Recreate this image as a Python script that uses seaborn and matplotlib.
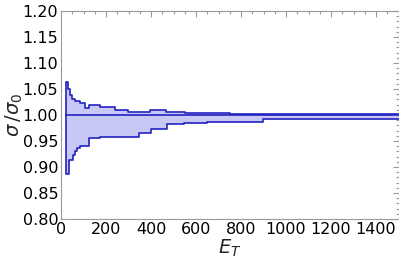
import matplotlib
matplotlib.use("Agg")
import matplotlib.pyplot as plt
from matplotlib.ticker import MultipleLocator, FormatStrFormatter
import numpy as np
import pandas as pd
import seaborn as sns

# step edges (E_T) and band values
upper_edges = [22, 31, 40, 49, 62, 84, 107, 124, 173, 240, 297, 395, 466, 550, 661, 750, 1500]
upper_vals = [1.064, 1.050, 1.038, 1.031, 1.027, 1.023, 1.013, 1.019, 1.015, 1.010,
              1.006, 1.010, 1.005, 1.003, 1.004, 1.0015, 1.0015]

lower_edges = [22, 35, 53, 62, 71, 84, 124, 173, 346, 400, 470, 546, 648, 897, 1500]
lower_vals = [0.887, 0.913, 0.923, 0.931, 0.937, 0.940, 0.956, 0.958, 0.966, 0.9725,
              0.982, 0.985, 0.9865, 0.9917, 0.9917]

x_ticks = [0, 200, 400, 600, 800, 1000, 1200, 1400]
y_ticks = [0.80, 0.85, 0.90, 0.95, 1.00, 1.05, 1.10, 1.15, 1.20]

line_col = "#2222c0"
fill_col = "#c8c8f6"
frame_col = "#9a9a9a"

sns.set_style("white")
plt.rcParams['font.family'] = ['DejaVu Sans']
plt.rcParams['mathtext.fontset'] = 'custom'
plt.rcParams['mathtext.it'] = 'DejaVu Sans:italic'
plt.rcParams['mathtext.rm'] = 'DejaVu Sans'

fig = plt.figure(figsize=(3.99, 2.69), dpi=100)
ax = fig.add_axes([61 / 399, 50 / 269, 337.5 / 399, 208 / 269])

up = pd.DataFrame({"E": upper_edges, "v": upper_vals})
lo = pd.DataFrame({"E": lower_edges, "v": lower_vals})

# common grid so the band can be filled between the two step curves
grid = np.unique(np.concatenate([upper_edges, lower_edges]))
u_on = up["v"].values[np.searchsorted(upper_edges, grid, side="right") - 1]
l_on = lo["v"].values[np.searchsorted(lower_edges, grid, side="right") - 1]
ax.fill_between(grid, l_on, u_on, step="post", color=fill_col, lw=0)

sns.lineplot(data=up, x="E", y="v", drawstyle="steps-post", color=line_col,
             lw=1.2, ax=ax, estimator=None, sort=False)
sns.lineplot(data=lo, x="E", y="v", drawstyle="steps-post", color=line_col,
             lw=1.2, ax=ax, estimator=None, sort=False)
ax.vlines([upper_edges[0]], lower_vals[0], upper_vals[0], color=line_col, lw=1.2)
ax.axhline(1.0, xmin=upper_edges[0] / 1500, color=line_col, lw=1.2)

ax.set_xlim(0, 1500)
ax.set_ylim(0.8, 1.2)
ax.set_xticks(x_ticks)
ax.set_yticks(y_ticks)
ax.yaxis.set_major_formatter(FormatStrFormatter("%.2f"))
ax.xaxis.set_minor_locator(MultipleLocator(50))
ax.yaxis.set_minor_locator(MultipleLocator(0.01))
ax.tick_params(which="both", direction="in", top=True, right=True,
               color=frame_col, width=0.8, labelsize=11.5, labelcolor="black", pad=2)
ax.tick_params(which="major", length=4)
ax.tick_params(which="minor", length=2)
for s in ax.spines.values():
    s.set_color(frame_col)
    s.set_linewidth(0.8)

ax.set_xlabel(r"$E_T$", fontsize=14, labelpad=1)
ax.set_ylabel(r"$\sigma\,/\sigma_0$", fontsize=14, labelpad=-2)

fig.savefig("out.png", dpi=100)
